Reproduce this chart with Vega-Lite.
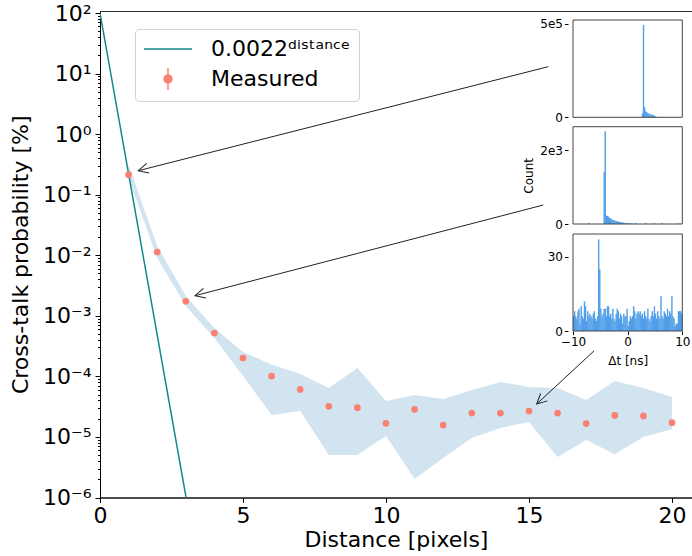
{
  "$schema": "https://vega.github.io/schema/vega-lite/v6.json",
  "width": 592,
  "height": 486.5,
  "autosize": "none",
  "padding": {"left": 100, "top": 11, "right": 0, "bottom": 58.5},
  "config": {
    "font": "DejaVu Sans",
    "view": {"stroke": "#333333", "strokeWidth": 1},
    "axis": {"grid": false, "labelColor": "#000000", "titleColor": "#000000", "tickColor": "#000000", "domainColor": "#000000", "titleFontWeight": "normal", "labelFont": "DejaVu Sans", "titleFont": "DejaVu Sans"},
    "legend": {"labelFont": "DejaVu Sans"}
  },
  "datasets": {
    "band": [
      {"x": 1, "lo": 0.189, "hi": 0.309}, {"x": 2, "lo": 0.009, "hi": 0.0142}, {"x": 3, "lo": 0.00145, "hi": 0.00212},
      {"x": 4, "lo": 0.00043, "hi": 0.00063}, {"x": 5, "lo": 0.000101, "hi": 0.000253}, {"x": 6, "lo": 0.000023, "hi": 0.000157},
      {"x": 7, "lo": 0.0000268, "hi": 0.000109}, {"x": 8, "lo": 0.00000503, "hi": 0.0000643}, {"x": 9, "lo": 0.00000503, "hi": 0.000137},
      {"x": 10, "lo": 0.0000104, "hi": 0.0000392}, {"x": 11, "lo": 0.00000202, "hi": 0.0000493}, {"x": 12, "lo": 0.00000449, "hi": 0.0000423},
      {"x": 13, "lo": 0.0000096, "hi": 0.0000596}, {"x": 14, "lo": 0.0000141, "hi": 0.0000807}, {"x": 15, "lo": 0.0000177, "hi": 0.0000668},
      {"x": 16, "lo": 0.00000467, "hi": 0.0000643}, {"x": 17, "lo": 0.0000089, "hi": 0.0000407}, {"x": 18, "lo": 0.0000052, "hi": 0.000084},
      {"x": 19, "lo": 0.00001, "hi": 0.0000643}, {"x": 20, "lo": 0.0000135, "hi": 0.0000457}
    ],
    "measured": [
      {"x": 1, "y": 0.214}, {"x": 2, "y": 0.0113}, {"x": 3, "y": 0.00174}, {"x": 4, "y": 0.00052}, {"x": 5, "y": 0.000201},
      {"x": 6, "y": 0.000101}, {"x": 7, "y": 0.000061}, {"x": 8, "y": 0.000032}, {"x": 9, "y": 0.0000304}, {"x": 10, "y": 0.0000168},
      {"x": 11, "y": 0.0000286}, {"x": 12, "y": 0.0000157}, {"x": 13, "y": 0.0000248}, {"x": 14, "y": 0.0000248}, {"x": 15, "y": 0.0000268},
      {"x": 16, "y": 0.0000248}, {"x": 17, "y": 0.0000166}, {"x": 18, "y": 0.0000227}, {"x": 19, "y": 0.0000222}, {"x": 20, "y": 0.0000172}
    ],
    "curve": [
      {"x": 0, "y": 100}, {"x": 1, "y": 0.22}, {"x": 2, "y": 0.000484}, {"x": 3, "y": 0.000001065}, {"x": 3.05, "y": 0.000000783}
    ],
    "arrows": [
      {"id": 1, "x": 15.675, "y": 13.0, "x2": 1.339, "y2": 0.249},
      {"id": 2, "x": 15.5, "y": 0.0676, "x2": 3.322, "y2": 0.00215},
      {"id": 3, "x": 17.28, "y": 0.000265, "x2": 15.27, "y2": 0.000035}
    ],
    "h1": [
      {"t": 2.7, "c": 21000}, {"t": 2.9, "c": 495000}, {"t": 3.1, "c": 54000}, {"t": 3.3, "c": 32000}, {"t": 3.5, "c": 29000},
      {"t": 3.7, "c": 22000}, {"t": 3.9, "c": 21000}, {"t": 4.1, "c": 19000}, {"t": 4.3, "c": 14000}, {"t": 4.5, "c": 13000},
      {"t": 4.7, "c": 11000}, {"t": 4.9, "c": 9000}, {"t": 5.1, "c": 4000}, {"t": 5.3, "c": 2000}, {"t": 5.5, "c": 1000}
    ],
    "h2": [
      {"t": -7.1, "c": 25}, {"t": -4.3, "c": 1410}, {"t": -4.1, "c": 2510}, {"t": -3.9, "c": 230}, {"t": -3.7, "c": 215},
      {"t": -3.5, "c": 200}, {"t": -3.3, "c": 160}, {"t": -3.1, "c": 150}, {"t": -2.9, "c": 130}, {"t": -2.7, "c": 110},
      {"t": -2.5, "c": 100}, {"t": -2.3, "c": 90}, {"t": -2.1, "c": 80}, {"t": -1.9, "c": 75}, {"t": -1.7, "c": 65},
      {"t": -1.5, "c": 55}, {"t": -1.3, "c": 50}, {"t": -1.1, "c": 45}, {"t": -0.9, "c": 40}, {"t": -0.7, "c": 35},
      {"t": -0.5, "c": 30}, {"t": -0.3, "c": 26}, {"t": -0.1, "c": 22}, {"t": 0.1, "c": 19}, {"t": 0.3, "c": 16},
      {"t": 0.5, "c": 14}, {"t": 0.7, "c": 12}, {"t": 0.9, "c": 10}, {"t": 1.5, "c": 25}, {"t": 3.3, "c": 25},
      {"t": 4.9, "c": 25}, {"t": 6.3, "c": 25}, {"t": 9.3, "c": 25}
    ],
    "h3": [
      {"t": -9.9, "c": 6}, {"t": -9.7, "c": 8}, {"t": -9.5, "c": 6}, {"t": -9.3, "c": 5}, {"t": -9.1, "c": 8},
      {"t": -8.9, "c": 9}, {"t": -8.7, "c": 3}, {"t": -8.5, "c": 10}, {"t": -8.3, "c": 6}, {"t": -8.1, "c": 5},
      {"t": -7.9, "c": 12}, {"t": -7.7, "c": 10}, {"t": -7.5, "c": 4}, {"t": -7.3, "c": 8}, {"t": -7.1, "c": 6},
      {"t": -6.9, "c": 7}, {"t": -6.7, "c": 6}, {"t": -6.5, "c": 5}, {"t": -6.3, "c": 7}, {"t": -6.1, "c": 8},
      {"t": -5.9, "c": 5}, {"t": -5.7, "c": 4}, {"t": -5.5, "c": 6}, {"t": -5.3, "c": 37}, {"t": -5.1, "c": 25},
      {"t": -4.9, "c": 9}, {"t": -4.7, "c": 6}, {"t": -4.5, "c": 7}, {"t": -4.3, "c": 9}, {"t": -4.1, "c": 9},
      {"t": -3.9, "c": 6}, {"t": -3.7, "c": 10}, {"t": -3.5, "c": 10}, {"t": -3.3, "c": 6}, {"t": -3.1, "c": 7},
      {"t": -2.9, "c": 5}, {"t": -2.7, "c": 9}, {"t": -2.5, "c": 5}, {"t": -2.3, "c": 4}, {"t": -2.1, "c": 7},
      {"t": -1.9, "c": 9}, {"t": -1.7, "c": 8}, {"t": -1.5, "c": 5}, {"t": -1.3, "c": 7}, {"t": -1.1, "c": 6},
      {"t": -0.9, "c": 3}, {"t": -0.7, "c": 7}, {"t": -0.5, "c": 6}, {"t": -0.3, "c": 6}, {"t": -0.1, "c": 9},
      {"t": 0.1, "c": 2}, {"t": 0.3, "c": 4}, {"t": 0.5, "c": 6}, {"t": 0.7, "c": 5}, {"t": 0.9, "c": 6},
      {"t": 1.1, "c": 10}, {"t": 1.3, "c": 8}, {"t": 1.5, "c": 5}, {"t": 1.7, "c": 7}, {"t": 1.9, "c": 8},
      {"t": 2.1, "c": 7}, {"t": 2.3, "c": 8}, {"t": 2.5, "c": 6}, {"t": 2.7, "c": 7}, {"t": 2.9, "c": 5},
      {"t": 3.1, "c": 8}, {"t": 3.3, "c": 6}, {"t": 3.5, "c": 5}, {"t": 3.7, "c": 9}, {"t": 3.9, "c": 5},
      {"t": 4.1, "c": 4}, {"t": 4.3, "c": 6}, {"t": 4.5, "c": 8}, {"t": 4.7, "c": 6}, {"t": 4.9, "c": 10},
      {"t": 5.1, "c": 7}, {"t": 5.3, "c": 5}, {"t": 5.5, "c": 8}, {"t": 5.7, "c": 6}, {"t": 5.9, "c": 5},
      {"t": 6.1, "c": 14}, {"t": 6.3, "c": 6}, {"t": 6.5, "c": 5}, {"t": 6.7, "c": 8}, {"t": 6.9, "c": 7},
      {"t": 7.1, "c": 6}, {"t": 7.3, "c": 9}, {"t": 7.5, "c": 6}, {"t": 7.7, "c": 8}, {"t": 7.9, "c": 7},
      {"t": 8.1, "c": 14}, {"t": 8.3, "c": 6}, {"t": 8.5, "c": 5}, {"t": 8.7, "c": 2}, {"t": 8.9, "c": 3},
      {"t": 9.1, "c": 3}, {"t": 9.3, "c": 8}, {"t": 9.5, "c": 8}, {"t": 9.7, "c": 8}, {"t": 9.9, "c": 7}
    ]
  },
  "layer": [
    {
      "layer": [
        {
          "data": {"name": "band"},
          "mark": {"type": "area", "color": "#1f77b4", "opacity": 0.2, "clip": true},
          "encoding": {
            "x": {"field": "x", "type": "quantitative",
              "scale": {"domain": [0, 20.7], "nice": false, "zero": false},
              "axis": {"orient": "bottom", "title": "Distance [pixels]", "values": [0, 5, 10, 15, 20], "labelFontSize": 22, "titleFontSize": 22, "tickSize": 5, "labelPadding": 3, "titlePadding": 3, "labelFlush": false}},
            "y": {"field": "hi", "type": "quantitative",
              "scale": {"type": "log", "domain": [0.000001, 108], "nice": false},
              "axis": {"orient": "left", "title": "Cross-talk probability [%]",
                "values": [0.000001, 0.000002, 0.000003, 0.000004, 0.000005, 0.000006, 0.000007, 0.000008, 0.000009,
                  0.00001, 0.00002, 0.00003, 0.00004, 0.00005, 0.00006, 0.00007, 0.00008, 0.00009,
                  0.0001, 0.0002, 0.0003, 0.0004, 0.0005, 0.0006, 0.0007, 0.0008, 0.0009,
                  0.001, 0.002, 0.003, 0.004, 0.005, 0.006, 0.007, 0.008, 0.009,
                  0.01, 0.02, 0.03, 0.04, 0.05, 0.06, 0.07, 0.08, 0.09,
                  0.1, 0.2, 0.3, 0.4, 0.5, 0.6, 0.7, 0.8, 0.9,
                  1, 2, 3, 4, 5, 6, 7, 8, 9,
                  10, 20, 30, 40, 50, 60, 70, 80, 90, 100],
                "labelExpr": "abs(log(datum.value)/LN10 - round(log(datum.value)/LN10)) < 0.001 ? '10' + ['⁻⁶','⁻⁵','⁻⁴','⁻³','⁻²','⁻¹','⁰','¹','²'][round(log(datum.value)/LN10) + 6] : ''",
                "tickSize": {"condition": {"test": "abs(log(datum.value)/LN10 - round(log(datum.value)/LN10)) < 0.001", "value": 5}, "value": 2.5},
                "labelFontSize": 22, "titleFontSize": 22, "labelPadding": 4, "titlePadding": 10, "labelOverlap": false, "labelFlush": false}},
            "y2": {"field": "lo"}
          }
        },
        {
          "data": {"name": "curve"},
          "mark": {"type": "line", "strokeWidth": 1.5, "clip": true},
          "encoding": {
            "x": {"field": "x", "type": "quantitative"},
            "y": {"field": "y", "type": "quantitative"},
            "color": {"datum": "0.0022ᵈⁱˢᵗᵃⁿᶜᵉ", "type": "nominal",
              "scale": {"domain": ["0.0022ᵈⁱˢᵗᵃⁿᶜᵉ", "Measured"], "range": ["#118a86", "#fa8072"]},
              "legend": {"orient": "none", "legendX": 35, "legendY": 18, "title": null,
                "labelFontSize": 22, "labelColor": "#000000", "labelLimit": 400,
                "symbolSize": 484, "symbolStrokeWidth": 1.5, "labelOffset": 44, "rowPadding": 5, "padding": 8,
                "fillColor": "#ffffff", "strokeColor": "#d0d0d0", "cornerRadius": 4,
                "encode": {"symbols": {"update": {
                  "shape": {"signal": "datum.value === 'Measured' ? 'M1.18,-1L1.18,1M1.54,0A0.36,0.36 0 1,1 0.82,0A0.36,0.36 0 1,1 1.54,0Z' : 'M-1,0L3.36,0'"},
                  "fill": {"signal": "datum.value === 'Measured' ? '#fa8072' : 'transparent'"},
                  "stroke": {"signal": "datum.value === 'Measured' ? '#fa8072' : '#118a86'"},
                  "strokeWidth": {"value": 1.5},
                  "opacity": {"value": 1},
                  "fillOpacity": {"value": 1}
                }}}}}
          }
        },
        {
          "data": {"name": "measured"},
          "mark": {"type": "point", "filled": true, "size": 45, "opacity": 1},
          "encoding": {
            "x": {"field": "x", "type": "quantitative"},
            "y": {"field": "y", "type": "quantitative"},
            "color": {"datum": "Measured", "type": "nominal"}
          }
        },
        {
          "data": {"name": "arrows"},
          "mark": {"type": "rule", "color": "#222222", "strokeWidth": 1},
          "encoding": {
            "x": {"field": "x", "type": "quantitative"},
            "y": {"field": "y", "type": "quantitative"},
            "x2": {"field": "x2"},
            "y2": {"field": "y2"}
          }
        },
        {
          "data": {"name": "arrows"},
          "transform": [{"filter": "datum.id == 1"}],
          "mark": {"type": "point", "shape": "M-1,-0.5L0,0L-1,0.5", "filled": false, "size": 400, "angle": 165.8, "color": "#222222", "strokeWidth": 1, "opacity": 1},
          "encoding": {
            "x": {"field": "x2", "type": "quantitative"},
            "y": {"field": "y2", "type": "quantitative"}
          }
        },
        {
          "data": {"name": "arrows"},
          "transform": [{"filter": "datum.id == 2"}],
          "mark": {"type": "point", "shape": "M-1,-0.5L0,0L-1,0.5", "filled": false, "size": 400, "angle": 165.4, "color": "#222222", "strokeWidth": 1, "opacity": 1},
          "encoding": {
            "x": {"field": "x2", "type": "quantitative"},
            "y": {"field": "y2", "type": "quantitative"}
          }
        },
        {
          "data": {"name": "arrows"},
          "transform": [{"filter": "datum.id == 3"}],
          "mark": {"type": "point", "shape": "M-1,-0.5L0,0L-1,0.5", "filled": false, "size": 400, "angle": 137.2, "color": "#222222", "strokeWidth": 1, "opacity": 1},
          "encoding": {
            "x": {"field": "x2", "type": "quantitative"},
            "y": {"field": "y2", "type": "quantitative"}
          }
        }
      ]
    },
    {
      "layer": [
        {
          "data": {"values": [{"x0": -10, "x1": 10, "y0": 0, "y1": 521000}]},
          "mark": {"type": "rect", "color": "#ffffff", "opacity": 1},
          "encoding": {
            "x": {"field": "x0", "type": "quantitative", "scale": {"domain": [-10, 10], "range": [468, 587.3], "nice": false, "zero": false}, "axis": null},
            "x2": {"field": "x1"},
            "y": {"field": "y0", "type": "quantitative", "scale": {"domain": [0, 521000], "range": [106.3, 9], "nice": false}, "axis": {"orient": "left", "offset": -468, "values": [0, 500000], "labelExpr": "datum.value == 0 ? '0' : '5e5'", "title": null, "domain": false, "tickSize": 3.5, "labelFontSize": 12, "labelPadding": 2}},
            "y2": {"field": "y1"}
          }
        },
        {
          "data": {"name": "h1"},
          "mark": {"type": "bar", "orient": "vertical", "size": 1.4, "color": "#509ee9"},
          "encoding": {
            "x": {"field": "t", "type": "quantitative", "axis": null},
            "y": {"field": "c", "type": "quantitative"}
          }
        },
        {
          "data": {"values": [{"x0": -10, "x1": 10, "y0": 0, "y1": 521000}]},
          "mark": {"type": "rect", "fillOpacity": 0, "stroke": "#444444", "strokeWidth": 1},
          "encoding": {
            "x": {"field": "x0", "type": "quantitative", "axis": null},
            "x2": {"field": "x1"},
            "y": {"field": "y0", "type": "quantitative"},
            "y2": {"field": "y1"}
          }
        }
      ]
    },
    {
      "layer": [
        {
          "data": {"values": [{"x0": -10, "x1": 10, "y0": 0, "y1": 2630}]},
          "mark": {"type": "rect", "color": "#ffffff", "opacity": 1},
          "encoding": {
            "x": {"field": "x0", "type": "quantitative", "scale": {"domain": [-10, 10], "range": [468, 587.3], "nice": false, "zero": false}, "axis": null},
            "x2": {"field": "x1"},
            "y": {"field": "y0", "type": "quantitative", "scale": {"domain": [0, 2630], "range": [213, 115.7], "nice": false}, "axis": {"orient": "left", "offset": -468, "values": [0, 2000], "labelExpr": "datum.value == 0 ? '0' : '2e3'", "title": "Count", "titleFontSize": 12, "titlePadding": 4, "domain": false, "tickSize": 3.5, "labelFontSize": 12, "labelPadding": 2}},
            "y2": {"field": "y1"}
          }
        },
        {
          "data": {"name": "h2"},
          "mark": {"type": "bar", "orient": "vertical", "size": 1.4, "color": "#509ee9"},
          "encoding": {
            "x": {"field": "t", "type": "quantitative", "axis": null},
            "y": {"field": "c", "type": "quantitative"}
          }
        },
        {
          "data": {"values": [{"x0": -10, "x1": 10, "y0": 0, "y1": 2630}]},
          "mark": {"type": "rect", "fillOpacity": 0, "stroke": "#444444", "strokeWidth": 1},
          "encoding": {
            "x": {"field": "x0", "type": "quantitative", "axis": null},
            "x2": {"field": "x1"},
            "y": {"field": "y0", "type": "quantitative"},
            "y2": {"field": "y1"}
          }
        }
      ]
    },
    {
      "layer": [
        {
          "data": {"values": [{"x0": -10, "x1": 10, "y0": 0, "y1": 39.2}]},
          "mark": {"type": "rect", "color": "#ffffff", "opacity": 1},
          "encoding": {
            "x": {"field": "x0", "type": "quantitative", "scale": {"domain": [-10, 10], "range": [468, 587.3], "nice": false, "zero": false},
              "axis": {"orient": "bottom", "offset": -166.5, "values": [-10, 0, 10], "title": "Δt [ns]", "labelFontSize": 12, "titleFontSize": 12, "tickSize": 3.5, "domain": false, "labelPadding": 2, "titlePadding": 8, "labelFlush": false}},
            "x2": {"field": "x1"},
            "y": {"field": "y0", "type": "quantitative", "scale": {"domain": [0, 39.2], "range": [320, 223], "nice": false}, "axis": {"orient": "left", "offset": -468, "values": [0, 30], "title": null, "domain": false, "tickSize": 3.5, "labelFontSize": 12, "labelPadding": 2}},
            "y2": {"field": "y1"}
          }
        },
        {
          "data": {"name": "h3"},
          "mark": {"type": "bar", "orient": "vertical", "size": 1.4, "color": "#509ee9"},
          "encoding": {
            "x": {"field": "t", "type": "quantitative"},
            "y": {"field": "c", "type": "quantitative"}
          }
        },
        {
          "data": {"values": [{"x0": -10, "x1": 10, "y0": 0, "y1": 39.2}]},
          "mark": {"type": "rect", "fillOpacity": 0, "stroke": "#444444", "strokeWidth": 1},
          "encoding": {
            "x": {"field": "x0", "type": "quantitative"},
            "x2": {"field": "x1"},
            "y": {"field": "y0", "type": "quantitative"},
            "y2": {"field": "y1"}
          }
        }
      ]
    }
  ],
  "resolve": {"scale": {"x": "independent", "y": "independent"}, "axis": {"x": "independent", "y": "independent"}}
}
